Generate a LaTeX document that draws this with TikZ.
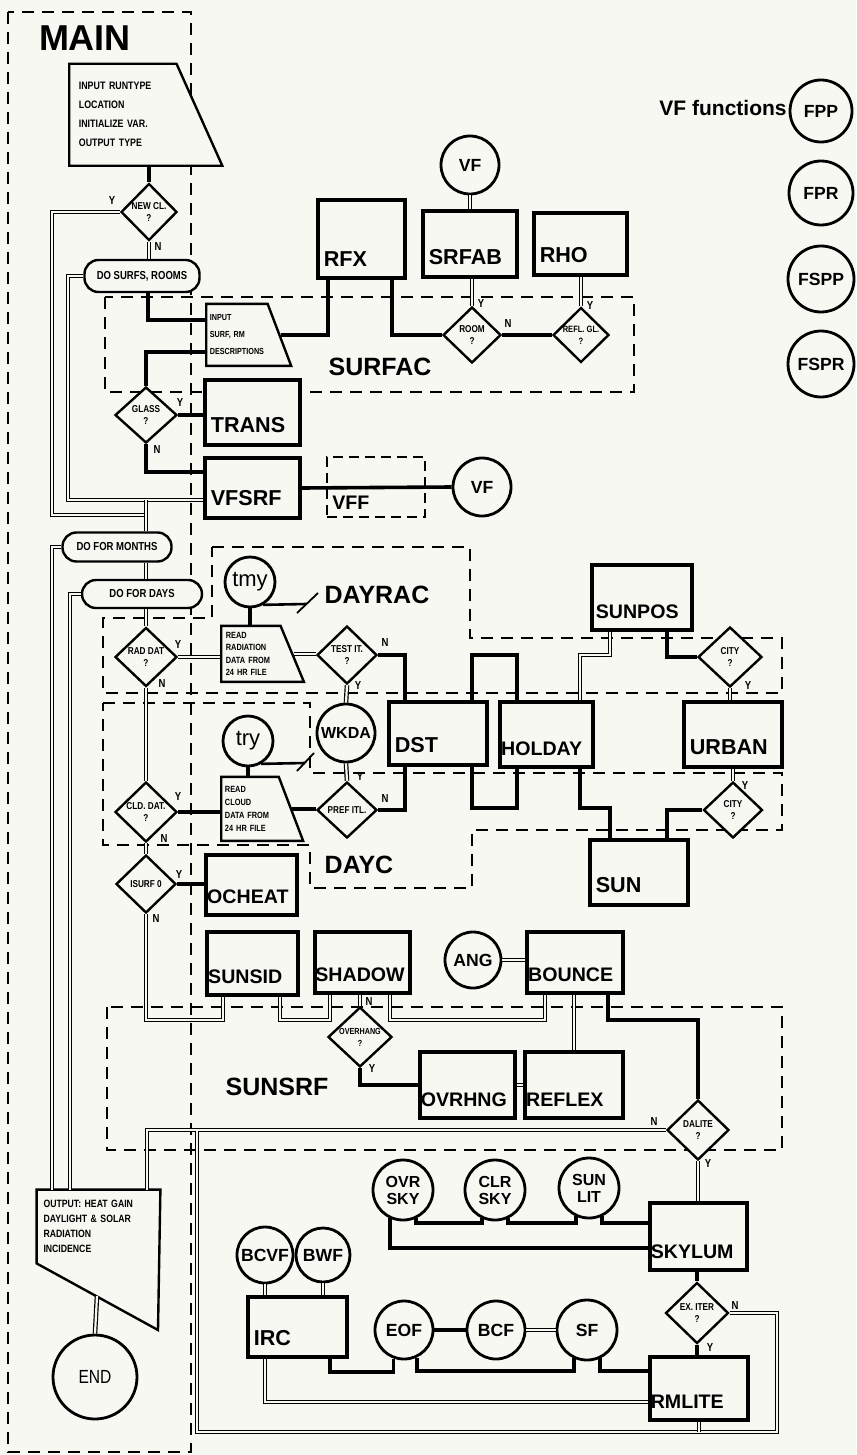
\documentclass[tikz,border=0pt]{standalone}
\usepackage{fontspec}
\setsansfont{Liberation Sans}
\newfontfamily\hand{Liberation Sans}[FakeStretch=0.82]
\usetikzlibrary{shapes.geometric, shadows}
\definecolor{paper}{RGB}{248,248,243}

\begin{document}
\begin{tikzpicture}[x=0.5pt, y=-0.5pt,
      mod/.style={rectangle, draw, line width=1.6pt, fill=paper, inner sep=0pt,
                  drop shadow={shadow xshift=0.9pt, shadow yshift=-0.9pt, opacity=1, fill=black}},
      tag/.style={anchor=south west, inner xsep=3.5pt, inner ysep=6.5pt,
                  font=\sffamily\bfseries\fontsize{10.8}{12}\selectfont},
      tagn/.style={tag, inner xsep=1.2pt, font=\sffamily\bfseries\fontsize{9.8}{12}\selectfont},
      fn/.style={circle, draw, line width=1.4pt, fill=paper, inner sep=0pt,
                 align=center, font=\sffamily\bfseries\fontsize{8.8}{9}\selectfont},
      ask/.style={diamond, draw, line width=1.2pt, fill=paper, inner sep=0pt,
                  align=center, font=\hand\bfseries\fontsize{5}{6.2}\selectfont},
      loopbox/.style={rectangle, rounded corners=7pt, draw, line width=1.2pt,
                  fill=paper, inner sep=0pt, font=\hand\bfseries\fontsize{5.8}{6}\selectfont},
      inp/.style={trapezium, trapezium left angle=90, trapezium right angle=#1,
                  trapezium stretches=true, anchor=bottom left corner, draw,
                  line width=1.2pt, fill=paper, inner sep=0.5pt, align=left},
      region/.style={line width=0.7pt, dash pattern=on 6pt off 4pt},
      link/.style={line width=1.8pt},
      dlink/.style={double=paper, double distance=1.1pt, line width=0.6pt},
      yn/.style={inner sep=0pt, font=\hand\bfseries\fontsize{5.8}{6}\selectfont},
      head/.style={font=\sffamily\bfseries\fontsize{12.5}{14}\selectfont}
    ]
    \fill[paper] (0,0) rectangle (856,1455);
    \useasboundingbox (0,0) rectangle (856,1455);

    \draw[region] (8,12) rectangle (191,1452);
    \draw[region] (105,297) rectangle (634,392);
    \draw[region] (212,547) -- (470,547) -- (470,638) -- (782,638) -- (782,693) -- (103,693) -- (103,618) -- (212,618) -- cycle;
    \draw[region] (103,703) -- (310,703) -- (310,773) -- (782,773) -- (782,830) -- (472,830) -- (472,888) -- (310,888) -- (310,845) -- (103,845) -- cycle;
    \draw[region] (107,1007) rectangle (782,1150);

    \node[font=\sffamily\bfseries\fontsize{18}{20}\selectfont] (main) at (85,38) {MAIN};
    \node[inp=60, minimum width=77pt, minimum height=51pt, text width=44pt,
          font=\hand\bfseries\fontsize{5.4}{9.5}\selectfont] (inmain) at (68,167)
          {INPUT RUNTYPE\\LOCATION\\INITIALIZE VAR.\\OUTPUT TYPE};
    \node[ask, minimum width=28pt, minimum height=28.5pt] (newcl) at (149,212) {NEW CL.\\?};
    \node[loopbox, minimum width=57.5pt, minimum height=16pt] (dosurf) at (142,276) {DO SURFS, ROOMS};
    \node[inp=63, minimum width=42.5pt, minimum height=31pt, text width=27pt,
          font=\hand\bfseries\fontsize{4.4}{8.5}\selectfont] (insurf) at (205,367)
          {INPUT\\SURF, RM\\DESCRIPTIONS};
    \node[ask, minimum width=31pt, minimum height=28pt] (glass) at (146,415) {GLASS\\?};
    \node[mod, minimum width=47.5pt, minimum height=32.5pt, label={[tag]south west:TRANS}] (trans) at (252.5,412.5) {};
    \node[mod, minimum width=47.5pt, minimum height=30pt, label={[tag]south west:VFSRF}] (vfsrf) at (252.5,488) {};
    \node[rectangle, draw, line width=1.1pt, dash pattern=on 5pt off 3pt, minimum width=49pt,
          minimum height=30pt, inner sep=0pt, label={[tagn, inner xsep=3pt, inner ysep=4pt]south west:VFF}] (vff) at (376,487) {};
    \node[fn, minimum size=29pt] (vfr) at (482,487) {VF};

    \node[mod, minimum width=43.5pt, minimum height=39pt, label={[tag]south west:RFX}] (rfx) at (361.5,239) {};
    \node[mod, minimum width=47pt, minimum height=33pt, label={[tag]south west:SRFAB}] (srfab) at (470,244) {};
    \node[mod, minimum width=46.5pt, minimum height=31pt, label={[tag]south west:RHO}] (rho) at (580.5,244) {};
    \node[fn, minimum size=29pt] (vftop) at (470,165) {VF};
    \node[ask, minimum width=29pt, minimum height=28pt] (room) at (472,335) {ROOM\\?};
    \node[ask, minimum width=28pt, minimum height=27pt, font=\hand\bfseries\fontsize{4.6}{6}\selectfont] (refl) at (581,335) {REFL. GL.\\?};
    \node[head] (surfac) at (380,367) {SURFAC};

    \node[font=\sffamily\bfseries\fontsize{10.5}{12}\selectfont, anchor=east, inner sep=1pt] (vfnote) at (789,108) {VF functions};
    \node[fn, minimum size=31pt] (fpp) at (821,111) {FPP};
    \node[fn, minimum size=32pt] (fpr) at (821,193) {FPR};
    \node[fn, minimum size=33pt] (fspp) at (821,279) {FSPP};
    \node[fn, minimum size=33pt] (fspr) at (821,364) {FSPR};

    \node[loopbox, minimum width=54.5pt, minimum height=14.5pt] (domonth) at (117,547) {DO FOR MONTHS};
    \node[loopbox, minimum width=60pt, minimum height=14pt] (doday) at (142,594) {DO FOR DAYS};

    \node[head] (dayrac) at (377,595) {DAYRAC};
    \node[fn, minimum size=25pt, font=\sffamily\fontsize{11}{12}\selectfont] (tmy) at (250,582) {tmy};
    \node[ask, minimum width=31pt, minimum height=29.5pt] (raddat) at (146,657) {RAD DAT\\?};
    \node[inp=66, minimum width=41.5pt, minimum height=28pt, text width=25pt,
          font=\hand\bfseries\fontsize{4.5}{6.3}\selectfont] (readrad) at (220,683)
          {READ\\RADIATION\\DATA FROM\\24 HR FILE};
    \node[ask, minimum width=30pt, minimum height=29pt] (testit) at (347,655) {TEST IT.\\?};
    \node[fn, minimum size=29pt, font=\sffamily\bfseries\fontsize{8}{9}\selectfont] (wkda) at (346,733) {WKDA};
    \node[mod, minimum width=49pt, minimum height=31.5pt, label={[tag]south west:DST}] (dst) at (438,733.5) {};
    \node[mod, minimum width=46.5pt, minimum height=32.5pt, label={[tagn]south west:HOLDAY}] (holday) at (546.5,734.5) {};
    \node[mod, minimum width=50pt, minimum height=32.5pt, label={[tagn, inner xsep=2.5pt]south west:SUNPOS}] (sunpos) at (642,597.5) {};
    \node[ask, minimum width=32pt, minimum height=30pt] (city1) at (730,657) {CITY\\?};
    \node[mod, minimum width=49pt, minimum height=32.5pt, label={[tag]south west:URBAN}] (urban) at (733,734.5) {};
    \node[ask, minimum width=29.5pt, minimum height=28pt] (city2) at (733,810) {CITY\\?};
    \node[mod, minimum width=49pt, minimum height=32.5pt, label={[tag]south west:SUN}] (sun) at (639,872.5) {};

    \node[head] (dayc) at (359,865) {DAYC};
    \node[fn, minimum size=25pt, font=\sffamily\fontsize{11}{12}\selectfont] (try) at (248,741) {try};
    \node[ask, minimum width=31pt, minimum height=30pt] (clddat) at (146,812) {CLD. DAT.\\?};
    \node[inp=65, minimum width=41pt, minimum height=32pt, text width=25pt,
          font=\hand\bfseries\fontsize{4.5}{6.5}\selectfont] (readcld) at (220,842)
          {READ\\CLOUD\\DATA FROM\\24 HR FILE};
    \node[ask, minimum width=30pt, minimum height=28pt] (prefit) at (347,810) {PREF ITL.};
    \node[ask, minimum width=30pt, minimum height=29pt] (isurf) at (146,884) {ISURF 0};
    \node[mod, minimum width=45.5pt, minimum height=30pt, label={[tagn]south west:OCHEAT}] (ocheat) at (251.5,885) {};

    \node[head] (sunsrf) at (277,1087) {SUNSRF};
    \node[mod, minimum width=45.5pt, minimum height=31.5pt, label={[tagn]south west:SUNSID}] (sunsid) at (252.5,963.5) {};
    \node[mod, minimum width=47.5pt, minimum height=30.5pt, label={[tagn, inner xsep=0.8pt]south west:SHADOW}] (shadow) at (362.5,962.5) {};
    \node[fn, minimum size=28pt] (ang) at (473,960) {ANG};
    \node[mod, minimum width=48pt, minimum height=30.5pt, label={[tagn]south west:BOUNCE}] (bounce) at (575,962.5) {};
    \node[ask, minimum width=32pt, minimum height=27.5pt, font=\hand\bfseries\fontsize{4.4}{6}\selectfont] (ovhg) at (360,1037) {OVERHANG\\?};
    \node[mod, minimum width=47.5pt, minimum height=33pt, label={[tagn, inner xsep=1pt]south west:OVRHNG}] (ovrhng) at (467.5,1085) {};
    \node[mod, minimum width=49pt, minimum height=33pt, label={[tagn]south west:REFLEX}] (reflex) at (574,1085) {};
    \node[ask, minimum width=31pt, minimum height=30pt] (dalite) at (698,1130) {DALITE\\?};

    \node[fn, minimum size=30pt, font=\sffamily\bfseries\fontsize{8}{8.5}\selectfont] (ovrsky) at (403,1190) {OVR\\SKY};
    \node[fn, minimum size=30pt, font=\sffamily\bfseries\fontsize{8}{8.5}\selectfont] (clrsky) at (495,1190) {CLR\\SKY};
    \node[fn, minimum size=30pt, font=\sffamily\bfseries\fontsize{8}{8.5}\selectfont] (sunlit) at (589,1188) {SUN\\LIT};
    \node[mod, minimum width=48.5pt, minimum height=33.5pt, label={[tagn, inner xsep=1pt]south west:SKYLUM}] (skylum) at (698.5,1236.5) {};
    \node[ask, minimum width=31.5pt, minimum height=30.5pt] (exiter) at (697,1313) {EX. ITER\\?};
    \node[mod, minimum width=49pt, minimum height=31.5pt, label={[tagn, inner xsep=1pt]south west:RMLITE}] (rmlite) at (699,1388.5) {};
    \node[fn, minimum size=28pt] (bcvf) at (265,1255) {BCVF};
    \node[fn, minimum size=27pt] (bwf) at (323,1255) {BWF};
    \node[mod, minimum width=49.5pt, minimum height=30pt, label={[tag]south west:IRC}] (irc) at (297.5,1327) {};
    \node[fn, minimum size=29pt] (eof) at (404,1330) {EOF};
    \node[fn, minimum size=29pt] (bcf) at (496,1330) {BCF};
    \node[fn, minimum size=30pt] (sf) at (587,1330) {SF};

    \node[rectangle, minimum width=61.5pt, minimum height=36.5pt, inner sep=0pt, text width=55pt,
          align=left, font=\hand\bfseries\fontsize{5.3}{7.5}\selectfont] (output) at (98.5,1226.5)
          {OUTPUT: HEAT GAIN\\DAYLIGHT \& SOLAR\\RADIATION\\INCIDENCE};
    \draw[line width=1.2pt] (output.north west) -- (output.north east) -- (158,1330) -- (output.south west) -- cycle;
    \coordinate (outtip) at (97,1296);
    \node[fn, minimum size=42pt, font=\hand\fontsize{9.5}{10}\selectfont] (endc) at (95,1377) {END};

    \coordinate (jloop) at (146,500);
    \coordinate (jm) at (146,515);
    \coordinate (tmyend) at (306,604);
    \coordinate (tryend) at (305,763);

    \draw[link] (inmain.south -| newcl.north) -- (newcl.north);
    \draw[dlink] (newcl.south) -- (newcl.south |- dosurf.north);
    \draw[dlink] (newcl.west) -| (52,515) -- (jm);
    \draw[dlink] (dosurf.west) -| (68,500) -- (vfsrf.west |- jloop);
    \draw[link] (dosurf.south -| 148,0) |- (insurf.west |- 0,320);
    \draw[link] (insurf.west |- 0,352) -| (glass.north);
    \draw[link] (glass.east) -- (glass.east -| trans.west);
    \draw[link] (glass.south) |- (vfsrf.west |- 0,472);
    \draw[dlink] (jloop) -- (jloop |- domonth.north);
    \draw[link] (insurf.east) -| (rfx.south -| 328,0);
    \draw[link] (rfx.south -| 392,0) |- (room.west);
    \draw[dlink] (srfab.south -| room.north) -- (room.north);
    \draw[link] (room.east) -- (refl.west);
    \draw[dlink] (rho.south -| refl.north) -- (refl.north);
    \draw[dlink] (vftop.south) -- (vftop.south |- srfab.north);
    \draw[link] (vfsrf.east) -- (vfr.west);

    \draw[dlink] (domonth.south -| jloop) -- (doday.north -| jloop);
    \draw[dlink] (doday.south -| jloop) -- (raddat.north);
    \draw[dlink] (domonth.west) -| (output.north -| 52,0);
    \draw[dlink] (doday.west) -| (output.north -| 70,0);

    \draw[dlink] (raddat.east) -- (raddat.east -| readrad.west);
    \draw[dlink] (raddat.south) -- (clddat.north);
    \draw[link] (tmy.south) -- (tmy.south |- readrad.north);
    \draw[line width=1.3pt] (tmy.-60) -- (tmyend);
    \draw[line width=0.9pt] ([shift={(-9,9)}]tmyend) -- ([shift={(12,-11)}]tmyend);
    \draw[dlink] (readrad.east) -- (readrad.east -| testit.west);
    \draw[link] (testit.east) -| (dst.north -| 405,0);
    \draw[dlink] (testit.south) -- (wkda.north);
    \draw[dlink] (wkda.south) -- (prefit.north);
    \draw[link] (dst.north -| 472,0) |- (517,655) -- (holday.north -| 517,0);
    \draw[dlink] (holday.north -| 580,0) |- (610,655) -- (sunpos.south -| 610,0);
    \draw[link] (sunpos.south -| 667,0) |- (city1.west);
    \draw[dlink] (city1.south) -- (city1.south |- urban.north);
    \draw[dlink] (urban.south -| city2.north) -- (city2.north);
    \draw[link] (city2.west) -| (sun.north -| 667,0);
    \draw[link] (holday.south -| 580,0) |- (610,808) -- (sun.north -| 610,0);
    \draw[link] (dst.south -| 472,0) |- (517,808) -- (holday.south -| 517,0);
    \draw[link] (prefit.east) -| (dst.south -| 405,0);

    \draw[link] (try.south) -- (try.south |- readcld.north);
    \draw[line width=1.3pt] (try.-60) -- (tryend);
    \draw[line width=0.9pt] ([shift={(-8,8)}]tryend) -- ([shift={(9,-10)}]tryend);
    \draw[link] (clddat.east) -- (clddat.east -| readcld.west);
    \draw[link] (readcld.east) -- (readcld.east -| prefit.west);
    \draw[dlink] (clddat.south) -- (isurf.north);
    \draw[link] (isurf.east) -- (isurf.east -| ocheat.west);

    \draw[dlink] (isurf.south) |- (223,1020) -- (sunsid.south -| 223,0);
    \draw[dlink] (sunsid.south -| 280,0) |- (330,1020) -- (shadow.south -| 330,0);
    \draw[dlink] (shadow.south -| ovhg.north) -- (ovhg.north);
    \draw[dlink] (shadow.south -| 390,0) |- (545,1020) -- (bounce.south -| 545,0);
    \draw[link] (ovhg.south) |- (ovrhng.west);
    \draw[dlink] (ovrhng.east) -- (reflex.west);
    \draw[dlink] (ang.east) -- (ang.east -| bounce.west);
    \draw[dlink] (bounce.south -| reflex.north) -- (reflex.north);
    \draw[link] (bounce.south -| 608,0) |- (695,1020) -| (dalite.north);

    \draw[dlink] (dalite.west) -| (output.north -| 147,0);
    \draw[dlink] (dalite.south) -- (dalite.south |- skylum.north);
    \draw[link] (ovrsky.-65) -- (ovrsky.-65 |- 0,1223) -| (clrsky.-115);
    \draw[link] (clrsky.-65) -- (clrsky.-65 |- 0,1223) -| (sunlit.-115);
    \draw[link] (sunlit.-65) -- (sunlit.-65 |- 0,1223) -- (skylum.west |- 0,1223);
    \draw[link] (ovrsky.-115) -- (ovrsky.-115 |- 0,1248) -- (skylum.west |- 0,1248);
    \draw[link] (skylum.south -| exiter.north) -- (exiter.north);
    \draw[link] (exiter.south) -- (exiter.south |- rmlite.north);
    \draw[dlink] (exiter.east) -| (777,1432) -| (197,1131);
    \draw[dlink] (rmlite.south) -- (rmlite.south |- 0,1432);

    \draw[dlink] (bcvf.south) -- (bcvf.south |- irc.north);
    \draw[dlink] (bwf.south) -- (bwf.south |- irc.north);
    \draw[link] (irc.south -| 330,0) -- (330,1372) -| (eof.-110);
    \draw[link] (eof.-65) -- (eof.-65 |- 0,1371) -| (sf.-115);
    \draw[link] (sf.-65) -- (sf.-65 |- 0,1371) -- (rmlite.west |- 0,1371);
    \draw[dlink] (irc.south -| 265,0) |- (rmlite.west |- 0,1402);
    \draw[link] (eof.east) -- (bcf.west);
    \draw[dlink] (bcf.east) -- (sf.west);
    \draw[dlink] (outtip) -- (endc.north);

    \foreach \t/\ax/\ay [count=\i] in {Y/112/201, N/158/247, Y/180/403, N/157/450, Y/481/304, N/508/324,
        Y/590/306, Y/178/645, N/162/684, N/385/643, Y/358/686, Y/748/686, Y/745/786, Y/178/797,
        N/164/838, Y/360/777, N/385/799, Y/179/874, N/156/918, N/369/1001, Y/372/1068,
        N/654/1121, Y/708/1163, N/735/1305, Y/710/1347}
      \node[yn] (yn\i) at (\ax,\ay) {\t};
  \end{tikzpicture}
\end{document}
